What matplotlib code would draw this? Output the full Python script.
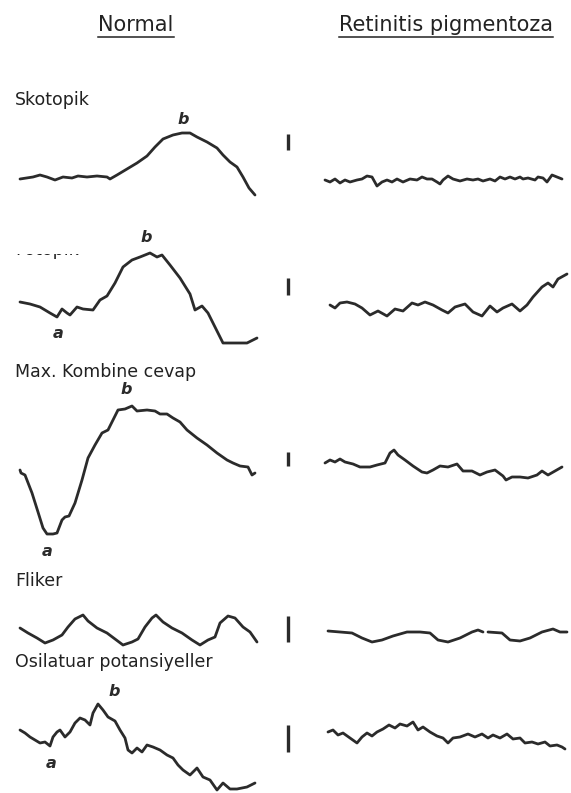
import numpy as np
import matplotlib
matplotlib.use("Agg")
import matplotlib.pyplot as plt
from matplotlib.patches import Rectangle

# column titles and row labels
titles = ["Normal", "Retinitis pigmentoza"]
rows = ["Skotopik", "Fotopik", "Max. Kombine cevap", "Fliker", "Osilatuar potansiyeller"]

# traces (x, y in image pixels)
sko_n_x = [20, 33, 40, 47, 55, 63, 72, 78, 87, 97, 107, 110, 117, 127, 137, 147, 155, 163, 173, 182, 190, 197, 207, 217, 223, 230, 237, 243, 249, 255]
sko_n_y = [179, 177, 175, 177, 180, 177, 178, 176, 177, 176, 177, 179, 175, 169, 163, 156, 147, 139, 135, 133, 133, 137, 142, 148, 155, 162, 167, 177, 188, 195]

sko_r_x = [325, 330, 335, 340, 345, 350, 357, 362, 367, 372, 377, 382, 387, 392, 397, 403, 410, 417, 422, 427, 432, 437, 440, 443, 448, 453, 460, 467, 473, 478, 483, 490, 495, 500, 505, 510, 515, 520, 523, 528, 535, 538, 543, 547, 552, 557, 562]
sko_r_y = [180, 182, 179, 183, 180, 182, 180, 179, 176, 177, 186, 182, 180, 182, 179, 182, 179, 180, 177, 179, 179, 182, 184, 180, 176, 179, 181, 179, 180, 179, 181, 179, 181, 177, 179, 177, 179, 177, 179, 178, 180, 177, 178, 182, 175, 177, 179]

fot_n_x = [20, 30, 40, 50, 57, 62, 67, 70, 77, 83, 93, 100, 107, 115, 123, 132, 140, 150, 157, 162, 170, 180, 190, 195, 202, 208, 215, 223, 233, 247, 257]
fot_n_y = [302, 304, 307, 313, 317, 309, 313, 315, 307, 309, 310, 300, 296, 283, 267, 260, 257, 253, 257, 255, 265, 278, 294, 310, 306, 313, 327, 343, 343, 343, 338]

fot_r_x = [330, 335, 340, 347, 355, 362, 370, 378, 387, 395, 403, 412, 418, 425, 433, 442, 448, 455, 465, 473, 482, 490, 497, 503, 512, 520, 527, 533, 542, 548, 553, 558, 567]
fot_r_y = [305, 308, 303, 302, 304, 308, 315, 311, 316, 309, 311, 303, 305, 302, 305, 310, 313, 307, 304, 312, 316, 306, 312, 308, 304, 311, 305, 297, 287, 283, 287, 279, 274]

max_n_x = [20, 21, 25, 32, 38, 43, 47, 53, 57, 62, 65, 69, 75, 82, 88, 95, 102, 108, 113, 118, 125, 132, 137, 147, 155, 160, 167, 173, 180, 187, 197, 207, 217, 227, 233, 240, 248, 252, 255]
max_n_y = [470, 473, 475, 493, 512, 528, 534, 534, 533, 520, 517, 516, 503, 480, 458, 445, 433, 430, 420, 410, 409, 406, 411, 410, 411, 414, 414, 418, 422, 430, 438, 445, 453, 460, 463, 466, 467, 475, 473]

max_r_x = [325, 330, 335, 340, 345, 353, 360, 370, 377, 385, 390, 394, 398, 405, 413, 422, 427, 433, 440, 448, 457, 463, 472, 480, 487, 495, 503, 506, 512, 520, 528, 537, 542, 548, 555, 562]
max_r_y = [463, 460, 462, 459, 462, 464, 467, 467, 465, 463, 453, 450, 455, 460, 466, 472, 473, 470, 466, 467, 464, 471, 471, 475, 472, 470, 476, 480, 477, 477, 478, 475, 471, 475, 471, 467]

fli_n_x = [20, 28, 37, 45, 53, 62, 68, 75, 83, 88, 97, 107, 115, 123, 132, 138, 145, 152, 156, 163, 172, 182, 192, 200, 208, 215, 220, 228, 235, 243, 250, 257]
fli_n_y = [628, 633, 638, 643, 640, 635, 627, 619, 615, 621, 628, 633, 639, 645, 642, 639, 627, 618, 615, 622, 628, 633, 640, 645, 640, 637, 623, 616, 618, 627, 632, 642]

fli_r_x = [328, 340, 352, 362, 372, 382, 393, 407, 420, 430, 438, 448, 460, 472, 478, 483, np.nan, 488, 502, 510, 520, 530, 542, 553, 560, 567]
fli_r_y = [631, 632, 633, 638, 642, 640, 636, 632, 632, 633, 640, 642, 638, 632, 630, 632, np.nan, 632, 633, 640, 641, 638, 632, 629, 632, 632]

osc_n_x = [20, 25, 30, 35, 40, 45, 50, 53, 57, 60, 65, 70, 75, 80, 85, 90, 93, 98, 103, 108, 115, 120, 125, 128, 132, 137, 142, 147, 153, 160, 167, 173, 178, 183, 190, 197, 203, 210, 217, 223, 230, 237, 247, 255]
osc_n_y = [730, 733, 737, 740, 743, 742, 746, 737, 732, 730, 737, 732, 723, 718, 720, 725, 713, 704, 710, 717, 721, 730, 738, 750, 753, 748, 752, 745, 747, 750, 755, 758, 765, 770, 775, 768, 777, 780, 790, 783, 789, 789, 787, 783]

osc_r_x = [328, 333, 338, 343, 350, 357, 362, 367, 372, 377, 383, 389, 395, 400, 407, 413, 418, 423, 430, 437, 443, 448, 453, 460, 468, 475, 482, 488, 493, 500, 507, 513, 520, 525, 532, 538, 545, 550, 557, 562, 565]
osc_r_y = [732, 730, 735, 733, 738, 743, 737, 733, 736, 732, 729, 725, 728, 724, 726, 722, 730, 727, 732, 736, 738, 743, 738, 737, 734, 737, 734, 738, 735, 738, 734, 739, 738, 743, 742, 744, 742, 746, 745, 747, 749]

traces = [
    (sko_n_x, sko_n_y), (sko_r_x, sko_r_y),
    (fot_n_x, fot_n_y), (fot_r_x, fot_r_y),
    (max_n_x, max_n_y), (max_r_x, max_r_y),
    (fli_n_x, fli_n_y), (fli_r_x, fli_r_y),
    (osc_n_x, osc_n_y), (osc_r_x, osc_r_y),
]

# row label y, calibration bar (top, bottom)
label_y = [100, 250, 372, 581, 662]
bar_top = [134, 278, 452, 616, 725]
bar_bot = [150, 295, 466, 642, 752]

# a / b wave markers
wave_txt = ["b", "a", "b", "a", "b", "a", "b"]
wave_x = [183, 58, 146, 47, 126, 51, 114]
wave_y = [119, 334, 237, 552, 390, 763, 692]

ink = "#2b2b2b"

fig = plt.figure(figsize=(5.71, 7.93), dpi=100)
ax = fig.add_axes([0, 0, 1, 1])
ax.set_xlim(0, 571)
ax.set_ylim(793, 0)
ax.axis("off")

for x, y in traces:
    ax.plot(x, y, color=ink, lw=2.0, solid_joinstyle="round", solid_capstyle="round")

for t, b in zip(bar_top, bar_bot):
    ax.plot([288, 288], [t, b], color=ink, lw=2.4, solid_capstyle="butt")

for s, x, y in zip(wave_txt, wave_x, wave_y):
    ax.text(x, y, s, fontsize=11.5, fontweight="bold", fontstyle="italic",
            color=ink, ha="center", va="center")

for lab, y in zip(rows, label_y):
    ax.text(15, y, lab, fontsize=12.5, color="#222222", ha="left", va="center")

# the "Fotopik" label is cut off in the source, only its foot shows
ax.add_patch(Rectangle((0, 230), 140, 23.5, facecolor="white", edgecolor="none", zorder=5))

# column titles, underlined
title_x = [136, 446]
fig.canvas.draw()
inv = ax.transData.inverted()
for s, x in zip(titles, title_x):
    t = ax.text(x, 25, s, fontsize=15, color="#222222", ha="center", va="center")
    bb = t.get_window_extent(fig.canvas.get_renderer())
    (x0, _), (x1, _) = inv.transform([[bb.x0, bb.y0], [bb.x1, bb.y1]])
    ax.plot([x0, x1], [37, 37], color="#222222", lw=1.1)

fig.savefig("out.png", dpi=100, facecolor="white")
